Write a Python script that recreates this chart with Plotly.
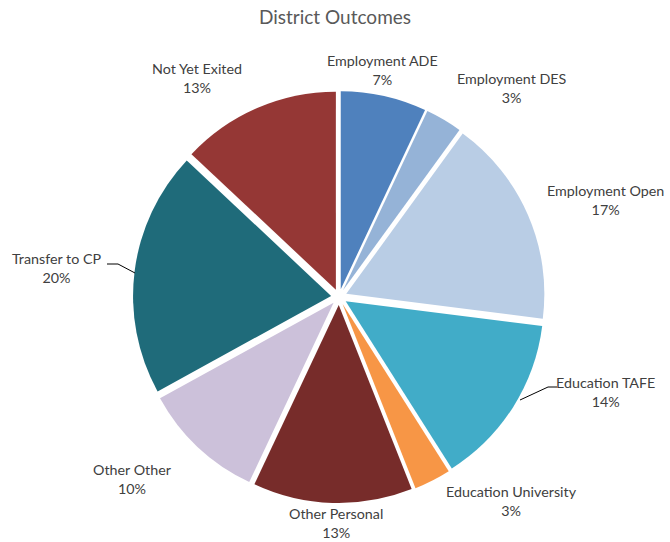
import plotly.graph_objects as go

labels = ["Employment ADE", "Employment DES", "Employment Open", "Education TAFE",
          "Education University", "Other Personal", "Other Other", "Transfer to CP",
          "Not Yet Exited"]
values = [7, 3, 17, 14, 3, 13, 10, 20, 13]
colors = ["#4f81bd", "#95b3d7", "#b9cde5", "#41acc8", "#f79646", "#772c2a",
          "#ccc1da", "#1f6b7a", "#953735"]

W, H = 670, 542
cx, cy, rr = 339, 297, 206

# label centres in pixels (layout only)
label_pos = [(382, 70), (512, 88), (605, 200), (605, 392), (511, 501),
             (336, 523), (132, 479), (57, 268), (197, 78)]
# leader lines (pixel polylines) for two labels
leaders = [[(107, 264), (118, 264), (135, 273)],
           [(557, 387), (548, 387), (520, 400)]]

FONT = "Lato, sans-serif"

def px(x):
    return x / W

def py(y):
    return 1 - y / H

total = sum(values)
fig = go.Figure(go.Pie(
    labels=labels, values=values, sort=False, direction="clockwise", rotation=0,
    marker=dict(colors=colors, line=dict(color="white", width=0)),
    pull=[0.04] * len(values),
    textinfo="none",
    showlegend=False, hoverinfo="label+percent",
    domain=dict(x=[px(cx - rr), px(cx + rr)], y=[py(cy + rr), py(cy - rr)]),
))

annotations = []
for lab, v, (lx, ly) in zip(labels, values, label_pos):
    annotations.append(dict(
        x=px(lx), y=py(ly), xref="paper", yref="paper", showarrow=False,
        text=f"{lab}<br>{round(100 * v / total)}%", align="center",
        xanchor="center", yanchor="middle",
        font=dict(family=FONT, size=14.3, color="#404040"),
    ))

shapes = []
for pts in leaders:
    path = "M " + " L ".join(f"{px(x)},{py(y)}" for x, y in pts)
    shapes.append(dict(type="path", path=path, xref="paper", yref="paper",
                       line=dict(color="#000000", width=1)))

fig.update_layout(
    width=W, height=H, margin=dict(l=0, r=0, t=0, b=0),
    paper_bgcolor="white", plot_bgcolor="white",
    annotations=annotations, shapes=shapes,
    title=dict(text="District Outcomes", x=0.5, xanchor="center", y=py(17), yanchor="middle",
               font=dict(family=FONT, size=19, color="#595959")),
)
fig.write_html("out.html", config={"displayModeBar": False},
               post_script="document.body.style.margin='0';document.body.style.overflow='hidden';")
